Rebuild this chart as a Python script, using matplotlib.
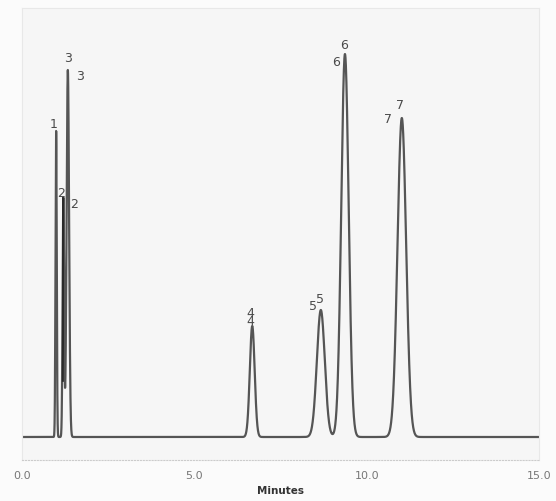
import numpy as np
import matplotlib
matplotlib.use("Agg")
import matplotlib.pyplot as plt

# Peak data (retention time in minutes, height, width sigma in minutes)
peak_ids = ["1", "2", "3", "4", "5", "6", "7"]
peak_times = [0.99, 1.20, 1.33, 6.68, 8.67, 9.37, 11.02]
peak_heights = [306, 239, 367, 111, 127, 383, 319]
peak_sigmas = [0.018, 0.022, 0.036, 0.07, 0.115, 0.107, 0.125]

# two label sets, as in reference (offsets in minutes / height units)
label_a_dx = [-0.06, -0.06, 0.0, -0.05, -0.24, -0.03, -0.05]
label_a_dy = [4, 2, 9, 10, 1, 6, 10]
label_b_dx = [None, 0.31, 0.36, -0.05, -0.03, -0.27, -0.40]
label_b_dy = [None, -9, -9, 2, 8, -11, -4]

xticks = [0.0, 5.0, 10.0, 15.0]
xtick_labels = ["0.0", "5.0", "10.0", "15.0"]

W, H = 556, 502
fig = plt.figure(figsize=(W / 100, H / 100), dpi=100, facecolor="#fbfbfb")
ax = fig.add_axes([22 / W, 1 - 461 / H, 517 / W, 452 / H])
ax.set_facecolor("#f6f6f6")

t = np.linspace(0, 15, 8000)
y = np.zeros_like(t)
for tr, h, s in zip(peak_times, peak_heights, peak_sigmas):
    y += h * np.exp(-0.5 * ((t - tr) / s) ** 2)

ax.plot(t, y, color="#555555", lw=1.6, solid_joinstyle="round")
# dark vertical line artifact at peak 2
ax.plot([peak_times[1] + 0.004] * 2, [56, peak_heights[1]], color="#222222", lw=1.2)

for i, pid in enumerate(peak_ids):
    ax.text(peak_times[i] + label_a_dx[i], peak_heights[i] + label_a_dy[i], pid,
            fontsize=9, color="#4a4a4a", ha="center", va="baseline")
    if label_b_dx[i] is not None:
        ax.text(peak_times[i] + label_b_dx[i], peak_heights[i] + label_b_dy[i], pid,
                fontsize=9, color="#4a4a4a", ha="center", va="baseline")

ax.set_xlim(0, 15)
ax.set_ylim(-23, 429)
ax.set_yticks([])
ax.set_xticks(xticks)
ax.set_xticklabels(xtick_labels, color="#777777", fontsize=8)
ax.tick_params(axis="x", length=0, pad=7)
for s in ["top", "right", "left"]:
    ax.spines[s].set_color("#e8e8e8")
    ax.spines[s].set_linewidth(0.8)
ax.spines["bottom"].set_color("#cccccc")
ax.spines["bottom"].set_linestyle(":")
ax.spines["bottom"].set_linewidth(0.8)
ax.set_xlabel("Minutes", fontsize=7.5, fontweight="bold", color="#333333", labelpad=4)

fig.savefig("out.png", dpi=100, facecolor=fig.get_facecolor())
